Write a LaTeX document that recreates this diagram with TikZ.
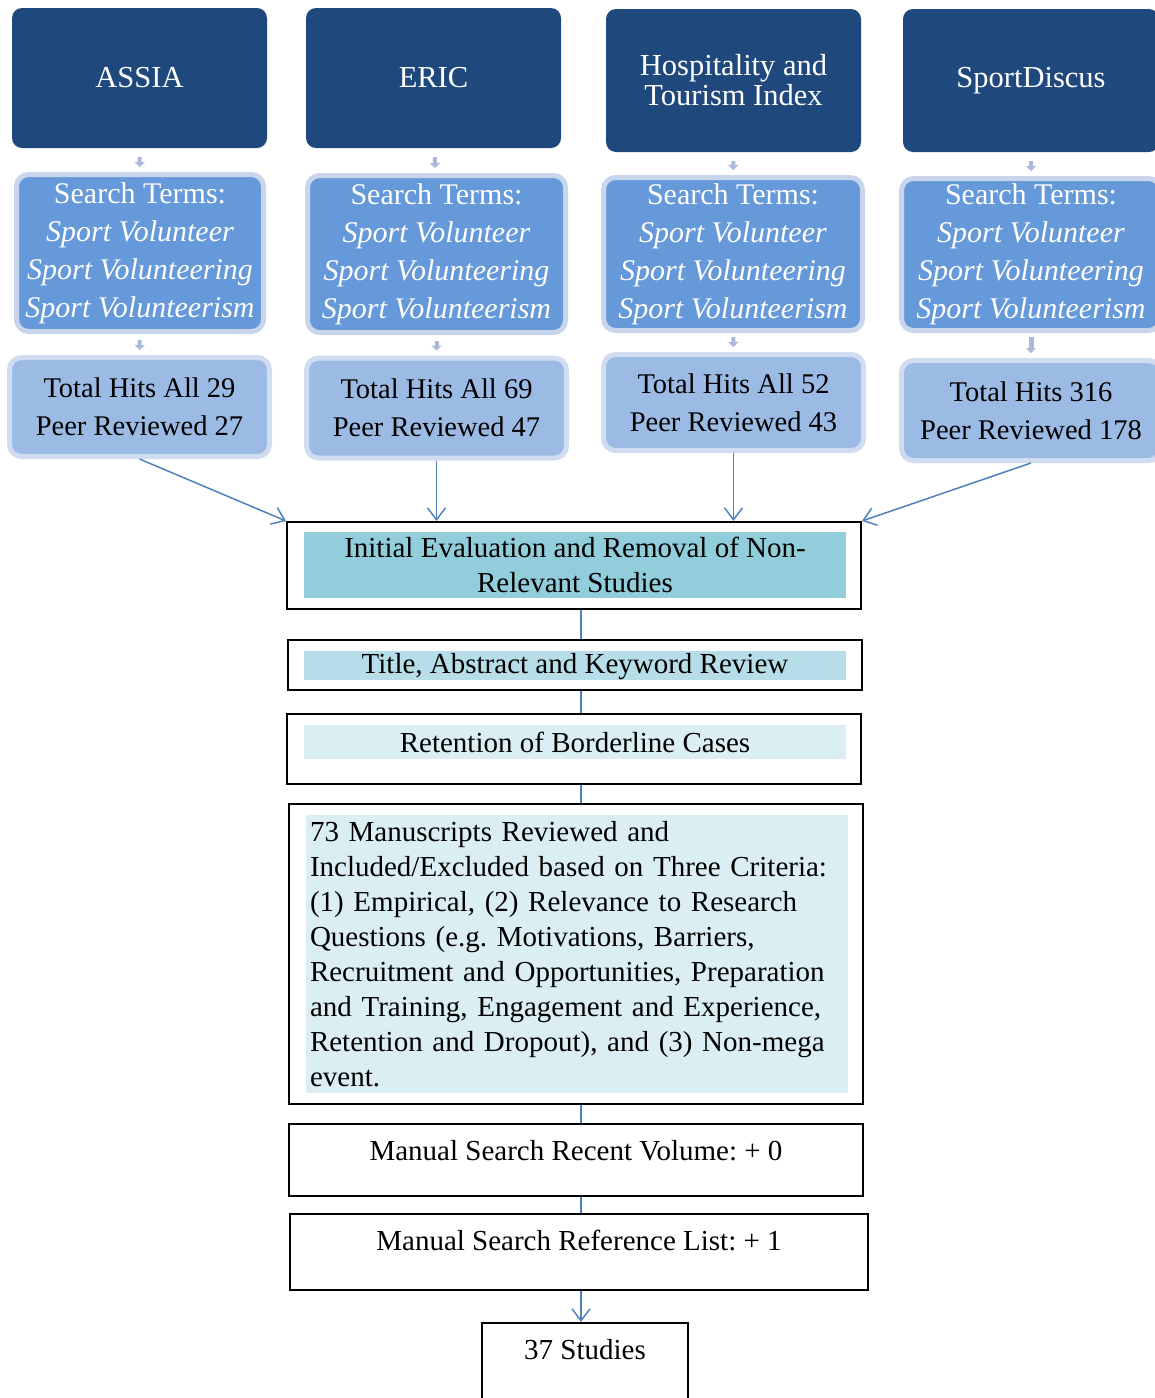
\documentclass[tikz,border=0pt]{standalone}
\usepackage{fontspec}
\setmainfont{Liberation Serif}
\usetikzlibrary{arrows.meta}

\definecolor{dbblue}{RGB}{31,73,125}
\definecolor{termfill}{RGB}{102,153,217}
\definecolor{termline}{RGB}{201,213,235}
\definecolor{hitfill}{RGB}{155,187,229}
\definecolor{hitline}{RGB}{208,220,240}
\definecolor{gapgrey}{RGB}{168,185,217}
\definecolor{linkblue}{RGB}{79,129,189}
\definecolor{evalfill}{RGB}{146,205,220}
\definecolor{titlefill}{RGB}{183,222,232}
\definecolor{paler}{RGB}{218,238,243}

\newcommand{\setfs}[2]{\fontsize{#1}{#2}\selectfont}

\tikzstyle{database} = [rectangle, rounded corners = 10pt, fill = dbblue, 
	text = white, align = center, minimum width = 255pt, minimum height = 140pt, 
	inner sep = 0pt, font = \setfs{30.5}{30}]
\tikzstyle{terms} = [rectangle, rounded corners = 12pt, draw = termline, 
	line width = 5pt, fill = termfill, text = white, align = center, 
	minimum height = 157pt, inner sep = 0pt, font = \setfs{30}{38}]
\tikzstyle{hits} = [rectangle, rounded corners = 12pt, draw = hitline, 
	line width = 5pt, fill = hitfill, align = center, minimum width = 260pt, 
	minimum height = 99pt, inner sep = 0pt, font = \setfs{28.5}{38}]
\tikzstyle{stage} = [rectangle, draw = black, line width = 2pt, 
	minimum width = 574pt, inner sep = 0pt]
\tikzstyle{band} = [rectangle, inner sep = 0pt, minimum width = 542pt, 
	align = center, font = \setfs{29}{35}]
\tikzstyle{gaparrow} = [line width = 4pt, draw = gapgrey, 
	-{Triangle[length = 5pt, width = 10pt]}, shorten <= 9pt, shorten >= 5pt]
\tikzstyle{link} = [line width = 1.5pt, draw = linkblue]
\tikzstyle{arrow} = [link, -{Straight Barb[length = 12pt, width = 18pt]}]

\begin{document}
\frenchspacing
\begin{tikzpicture}[x = 1pt, y = -1pt]

\useasboundingbox (0,0) rectangle (1155,1398);

% databases
\node (D0) [database] at (139.5,78) {ASSIA};
\node (D1) [database] at (433.5,78) {ERIC};
\node (D2) [database, minimum height = 143pt] at (733.5,80.5) 
	{Hospitality and\\Tourism Index};
\node (D3) [database, minimum height = 143pt, minimum width = 256pt] 
	at (1031,80.5) {SportDiscus};

% search terms
\node (S0) [terms, minimum width = 247pt] at (140,253)
	{Search Terms:\\ \textit{Sport Volunteer}\\ \textit{Sport Volunteering}\\ \textit{Sport Volunteerism}};
\node (S1) [terms, minimum width = 258pt] at (436.5,254)
	{Search Terms:\\ \textit{Sport Volunteer}\\ \textit{Sport Volunteering}\\ \textit{Sport Volunteerism}};
\node (S2) [terms, minimum width = 259pt, minimum height = 153pt] at (733,254)
	{Search Terms:\\ \textit{Sport Volunteer}\\ \textit{Sport Volunteering}\\ \textit{Sport Volunteerism}};
\node (S3) [terms, minimum width = 259pt, minimum height = 152pt] at (1031,254.5)
	{Search Terms:\\ \textit{Sport Volunteer}\\ \textit{Sport Volunteering}\\ \textit{Sport Volunteerism}};

% hits
\node (H0) [hits] at (139.5,407) {Total Hits All 29\\Peer Reviewed 27};
\node (H1) [hits, minimum height = 100pt] at (436.5,408) {Total Hits All 69\\Peer Reviewed 47};
\node (H2) [hits, minimum height = 96pt] at (733.5,402.5) {Total Hits All 52\\Peer Reviewed 43};
\node (H3) [hits, minimum height = 100pt, minimum width = 259pt] at (1031,410.5) 
	{Total Hits 316\\Peer Reviewed 178};

\foreach \i in {0,1,2,3}
{
	\draw [gaparrow] (D\i) -- (S\i);
}
\draw [gaparrow, shorten <= 6pt] (S0) -- (H0);
\draw [gaparrow, shorten <= 6pt] (S1) -- (H1);
\draw [gaparrow, shorten <= 4pt] (S2) -- (H2);
\draw [gaparrow, line width = 5pt, shorten <= 4pt, shorten >= 5pt] (S3) -- (H3);

% review stages
\coordinate (axis) at (581,0);

\node (E1) [stage, minimum height = 87pt] at (574,565.5) {};
\node (E1t) [band, fill = evalfill, minimum height = 66pt] at (575,565)
	{Initial Evaluation and Removal of Non-\\Relevant Studies};

\node (E2) [stage, minimum height = 50pt] at (575,665) {};
\node (E2t) [band, fill = titlefill, minimum height = 29pt, text depth = 4pt] at (575,665.5)
	{Title, Abstract and Keyword Review};

\node (E3) [stage, minimum height = 70pt] at (574,749) {};
\node (E3t) [band, fill = paler, minimum height = 34pt] at (575,742)
	{Retention of Borderline Cases};

\node (E4) [stage, minimum height = 300pt] at (576,954) {};
\node (E4t) [band, fill = paler, minimum height = 278pt, text width = 534pt, 
	inner xsep = 4pt, align = left] at (577,954)
	{73 Manuscripts Reviewed and\\
	Included/Excluded based on Three Criteria:\\
	(1) Empirical, (2) Relevance to Research\\
	Questions (e.g. Motivations, Barriers,\\
	Recruitment and Opportunities, Preparation\\
	and Training, Engagement and Experience,\\
	Retention and Dropout), and (3) Non-mega\\
	event.};

\node (E5) [stage, minimum height = 72pt] at (576,1160) {};
\node (E5t) [band] at (576,1151) {Manual Search Recent Volume: + 0};

\node (E6) [stage, minimum height = 76pt, minimum width = 578pt] at (579,1252) {};
\node (E6t) [band] at (579,1240) {Manual Search Reference List: + 1};

\node (E7) [stage, minimum height = 97pt, minimum width = 206pt] at (585,1371.5) {};
\node (E7t) [band, minimum width = 0pt] at (585,1350) {37 Studies};

% connectors
\draw [arrow] (H0.south) -- (E1.north west);
\draw [arrow] (H1.south) -- (H1.south |- E1.north);
\draw [arrow] (H2.south) -- (H2.south |- E1.north);
\draw [arrow] (H3.south) -- (E1.north east);

\draw [link] (E1.south -| axis) -- (E2.north -| axis);
\draw [link] (E2.south -| axis) -- (E3.north -| axis);
\draw [link] (E3.south -| axis) -- (E4.north -| axis);
\draw [link] (E4.south -| axis) -- (E5.north -| axis);
\draw [link] (E5.south -| axis) -- (E6.north -| axis);
\draw [arrow] (E6.south -| axis) -- (E7.north -| axis);
\end{tikzpicture}
\end{document}
